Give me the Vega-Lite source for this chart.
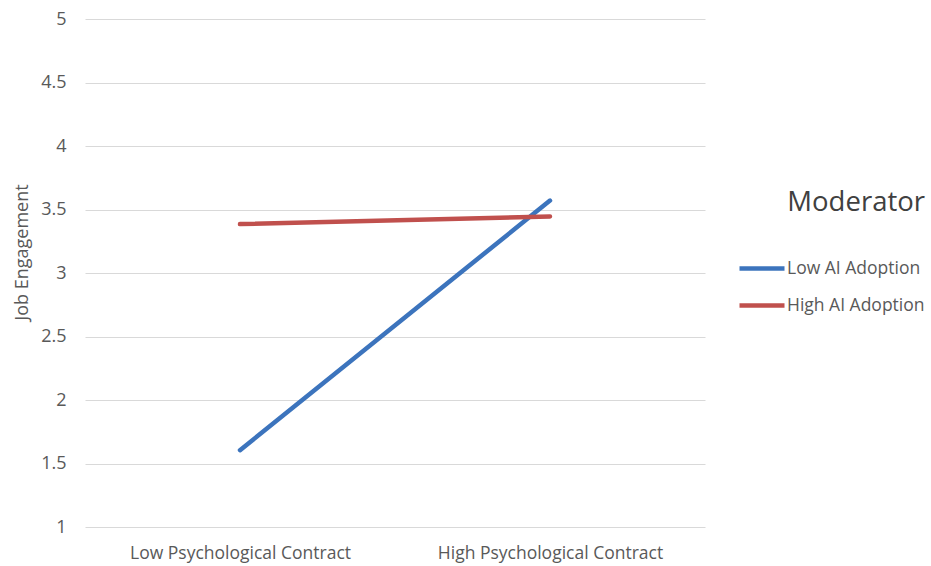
{
  "$schema": "https://vega.github.io/schema/vega-lite/v6.json",
  "autosize": "none",
  "width": 620,
  "height": 508,
  "padding": {"left": 85, "top": 19, "right": 226, "bottom": 39},
  "background": "white",
  "data": {"values": [
    {"contract": "Low Psychological Contract", "moderator": "Low AI Adoption", "engagement": 1.605},
    {"contract": "High Psychological Contract", "moderator": "Low AI Adoption", "engagement": 3.57},
    {"contract": "Low Psychological Contract", "moderator": "High AI Adoption", "engagement": 3.385},
    {"contract": "High Psychological Contract", "moderator": "High AI Adoption", "engagement": 3.445}
  ]},
  "config": {
    "font": "Open Sans",
    "view": {"stroke": null}
  },
  "mark": {"type": "line", "strokeWidth": 4.5, "strokeCap": "round"},
  "encoding": {
    "x": {
      "field": "contract", "type": "nominal",
      "sort": ["Low Psychological Contract", "High Psychological Contract"],
      "scale": {"type": "point", "padding": 0.5},
      "axis": {"title": null, "labelAngle": 0, "domain": false, "ticks": false, "grid": false, "labelLimit": 0,
               "labelFontSize": 17.5, "labelColor": "#595959", "labelPadding": 17}
    },
    "y": {
      "field": "engagement", "type": "quantitative",
      "scale": {"domain": [1, 5], "nice": false, "zero": false},
      "axis": {"title": "Job Engagement", "titleFontSize": 18, "titleFontWeight": "normal", "titleColor": "#595959",
               "titleX": -63, "titleY": 233, "titleBaseline": "middle", "titleAngle": -90, "titleAlign": "center",
               "values": [1, 1.5, 2, 2.5, 3, 3.5, 4, 4.5, 5], "format": "~g",
               "labelFontSize": 18, "labelColor": "#595959", "labelPadding": 19,
               "domain": false, "ticks": false, "gridColor": "#d9d9d9", "gridWidth": 1.2}
    },
    "color": {
      "field": "moderator", "type": "nominal",
      "scale": {"domain": ["Low AI Adoption", "High AI Adoption"], "range": ["#3C74BD", "#C0504D"]},
      "legend": {
        "title": "Moderator", "orient": "none", "legendX": 652, "legendY": 170,
        "titleFontSize": 27.5, "titleFontWeight": "normal", "titleColor": "#404040", "titleAnchor": "end",
        "titlePadding": 27, "labelLimit": 0,
        "symbolType": "stroke", "symbolSize": 2025, "symbolStrokeWidth": 4.5,
        "labelFontSize": 17.5, "labelColor": "#595959", "labelOffset": 0, "rowPadding": 3
      }
    }
  }
}
